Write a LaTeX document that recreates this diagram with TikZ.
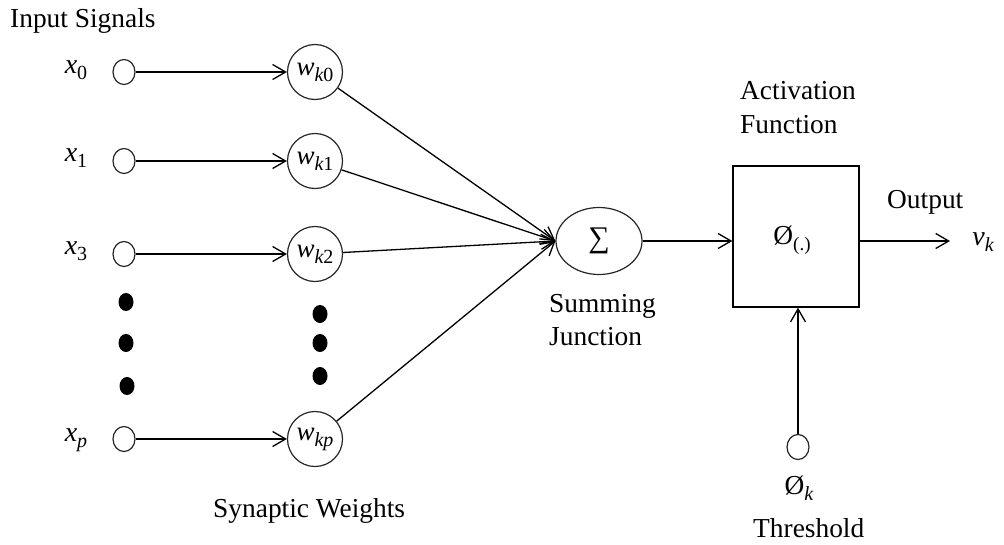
\documentclass[tikz,border=0pt]{standalone}
\usepackage{fontspec}
\setmainfont{Liberation Serif}
\usetikzlibrary{arrows.meta,shapes.geometric}
% italic symbol with a lowered subscript, set in text fonts
\newcommand{\symsub}[2]{\textit{#1}\raisebox{-6pt}{\fontsize{20}{20}\selectfont #2}}
\begin{document}
\begin{tikzpicture}[x=1pt,y=-1pt,
  lbl/.style={font=\fontsize{27.4}{32}\selectfont, inner sep=0pt},
  mlbl/.style={font=\fontsize{28}{32}\selectfont, inner sep=0pt},
  port/.style={ellipse, draw=black!85, line width=1.2pt, minimum width=22, minimum height=25, inner sep=0pt},
  wnode/.style={circle, draw=black!85, line width=1.2pt, minimum size=55, inner sep=0pt, font=\fontsize{27}{32}\selectfont},
  bigdot/.style={ellipse, fill=black, minimum width=15, minimum height=18, inner sep=0pt},
  conn/.style={line width=1.3pt, -{Straight Barb[length=13pt,width=15pt,line width=1.3pt]}}]
\useasboundingbox (0,0) rectangle (1004,544);

% input ports
\node[port] (i0) at (124,72) {};
\node[port] (i1) at (124,161) {};
\node[port] (i2) at (124,254) {};
\node[port] (ip) at (124,439) {};
\node[mlbl] (lx0) at (76,70) {\symsub{x}{0}};
\node[mlbl] (lx1) at (76,158) {\symsub{x}{1}};
\node[mlbl] (lx3) at (76,251) {\symsub{x}{3}};
\node[mlbl] (lxp) at (76,440) {\symsub{x}{\itshape p}};

% synaptic weights
\node[wnode] (w0) at (315,72) {\symsub{w}{\itshape k\upshape 0}};
\node[wnode] (w1) at (315,161) {\symsub{w}{\itshape k\upshape 1}};
\node[wnode] (w2) at (315,254) {\symsub{w}{\itshape k\upshape 2}};
\node[wnode] (wp) at (315,439) {\symsub{w}{\itshape kp}};

% ellipsis dots
\node[bigdot] (da) at (126,302) {};
\node[bigdot] (db) at (126,343) {};
\node[bigdot] (dc) at (127,386) {};
\node[bigdot] (dd) at (320,314) {};
\node[bigdot] (de) at (320,343) {};
\node[bigdot] (df) at (320,376) {};

% summing junction and activation block
\node[ellipse, draw=black!85, line width=1.2pt, minimum width=86, minimum height=67, inner sep=0pt,
      font=\fontsize{30}{32}\selectfont] (sum) at (599,241) {∑};
\node[draw, line width=1.3pt, minimum width=126, minimum height=141, inner sep=0pt] (box) at (796,236.5) {};
\node[lbl] (phi) at (792,240) {Ø\raisebox{-6pt}{\fontsize{19}{19}\selectfont (.)}};
\node[port] (th) at (798,447) {};
\coordinate (out) at (950,241);

% connectors
\foreach \a/\b in {i0/w0, i1/w1, i2/w2, ip/wp}
  \draw[conn] (\a) -- (\b);
\foreach \a in {w0, w1, w2, wp}
  \draw[conn] (\a) -- (sum.west);
\draw[conn] (sum.east) -- (sum.east -| box.west);
\draw[conn] (box.east |- sum.east) -- (out);
\draw[conn] (th.north) -- (th.north |- box.south);

% labels
\node[lbl, anchor=base west] (tin) at (10,27) {Input Signals};
\node[lbl, anchor=base west] (tsyn) at (213,517) {Synaptic Weights};
\node[lbl, anchor=base west] (tsum1) at (549,312) {Summing};
\node[lbl, anchor=base west] (tsum2) at (549,345) {Junction};
\node[lbl, anchor=base west] (tact1) at (740,99) {Activation};
\node[lbl, anchor=base west] (tact2) at (740,133) {Function};
\node[lbl, anchor=base west] (tout) at (887,208) {Output};
\node[mlbl] (vk) at (983,242) {\symsub{v}{\itshape k}};
\node[lbl] (phik) at (799,488) {Ø\raisebox{-6pt}{\fontsize{20}{20}\selectfont\itshape k}};
\node[lbl, anchor=base west] (tthr) at (753,537) {Threshold};
\end{tikzpicture}
\end{document}
